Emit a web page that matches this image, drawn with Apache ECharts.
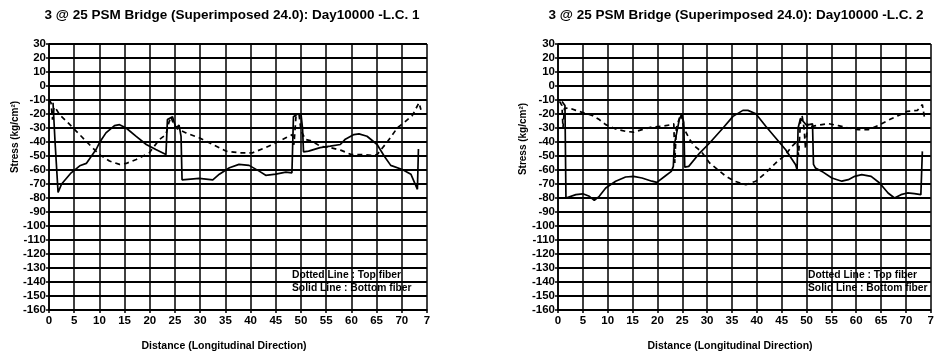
<!DOCTYPE html>
<html>
<head>
<meta charset="utf-8">
<script src="https://cdn.jsdelivr.net/npm/echarts@6/dist/echarts.min.js"></script>
<style>
  html, body { margin: 0; padding: 0; background: #fff; }
  #chart { width: 937px; height: 356px; }
</style>
</head>
<body>
<div id="chart"></div>
<script>
// ---------- data ----------
const chartTitles = [
  '3 @ 25 PSM Bridge (Superimposed 24.0): Day10000 -L.C. 1',
  '3 @ 25 PSM Bridge (Superimposed 24.0): Day10000 -L.C. 2'
];
const xAxisTitle = 'Distance (Longitudinal Direction)';
const yAxisTitle = 'Stress (kg/cm\u00B2)';
const legendLines = ['Dotted Line : Top fiber', 'Solid Line : Bottom fiber'];

const xTickLabels = ['0','5','10','15','20','25','30','35','40','45','50','55','60','65','70','7'];
const yTickLabels = ['30','20','10','0','-10','-20','-30','-40','-50','-60','-70','-80','-90',
  '-100','-110','-120','-130','-140','-150','-160'];

// L.C. 1 top fiber (dotted)
const lc1Top = [
  [0,-10],[0.4,-12],[0.7,-24],[1.0,-15],[1.5,-17],[2.1,-20.5],[3.8,-26.4],[6.4,-35.9],[8,-41.8],
  [10,-49],[12,-53.6],[14,-56],[15.3,-55.3],[17.3,-52.5],[19.9,-47.7],[21.9,-38.2],[23.2,-34.7],
  [23.8,-26],[24.2,-22],[24.7,-27],[25.2,-30],[27.2,-33.5],[29.8,-37],[32.5,-41.8],[35.1,-46.5],
  [37.7,-47.7],[40.4,-47.7],[43,-44],[45,-40.6],[47,-37],[48.3,-34.7],[48.6,-42],[49,-22],
  [49.6,-20],[50,-32],[50.9,-38.2],[52.2,-39.4],[53.8,-43],[55.8,-44],[58,-46],[60,-49],[62,-49],
  [64,-49.5],[65.1,-49],[67.1,-40],[69.1,-30],[70.5,-26],[72.1,-21],[73.4,-12],[73.8,-17]
];
// L.C. 1 bottom fiber (solid)
const lc1Bot = [
  [0.8,-12],[1.2,-40],[1.8,-76],[2.5,-70],[4.4,-62],[6.1,-57],[7.4,-55.3],[9.4,-45],[10,-40.6],
  [11.3,-33.5],[13,-28.3],[14,-27.6],[15.3,-30],[17.3,-36],[19.3,-41.8],[21.2,-45.4],[23.2,-49],
  [23.5,-24],[24.5,-22],[25.2,-30],[25.8,-28],[26.2,-36],[26.4,-67],[29.8,-66],[32.5,-67],
  [33.8,-63],[35.8,-58.4],[37.7,-56],[39.7,-56.7],[41.7,-60.8],[43,-63.8],[45,-63],[47,-61.5],
  [48.2,-62],[48.5,-22],[49.3,-20],[50,-20],[50.3,-30],[50.5,-47],[51.5,-46.5],[53.8,-44],
  [55.8,-43],[57.8,-41.8],[58.8,-38],[60.5,-34.7],[61.5,-34.2],[63.1,-35.9],[65.1,-41.8],
  [66.5,-50],[67.8,-56.7],[70.1,-59.6],[71.8,-63],[73.1,-73.8],[73.3,-45]
];
// L.C. 2 top fiber (dotted)
const lc2Top = [
  [0.3,-11],[0.8,-14],[1.0,-30],[1.3,-16],[2.3,-15.7],[3.6,-17.4],[5.3,-19.3],[7,-21.2],[8.3,-24],
  [9.6,-27.6],[11.6,-30.7],[13.6,-32.4],[15.2,-33],[16.9,-31.2],[18.9,-29.3],[20.9,-28.8],
  [22.8,-27.6],[23.3,-27],[23.5,-55],[23.8,-30],[24.5,-22],[24.8,-20],[25.3,-30],[26.5,-38.3],
  [27.5,-43],[28.8,-46.7],[30.5,-55],[33.8,-64.5],[35.5,-68],[37.8,-70.5],[39.8,-68],[41.8,-62],
  [43.8,-55],[45.8,-49],[47.1,-43],[48.1,-39.5],[48.4,-50],[48.8,-24],[49.1,-21],[49.5,-30],
  [49.8,-45],[50.2,-27],[51.1,-28.8],[53.1,-27.6],[54.4,-26.9],[56.4,-28.3],[58.4,-30],
  [60.4,-31.2],[62.4,-31.2],[64.4,-28.3],[66.4,-24.5],[68.4,-21.2],[70.3,-18.1],[72.3,-17.4],
  [73.3,-13.3],[73.7,-22]
];
// L.C. 2 bottom fiber (solid)
const lc2Bot = [
  [0.8,-11],[1.4,-14],[1.6,-80],[2,-80.7],[3.6,-77.6],[5,-77],[6.3,-78.8],[7.3,-81.7],[8.3,-78.8],
  [9.6,-72.9],[11.6,-68],[13.6,-65],[15.2,-64.5],[16.9,-65.7],[18.9,-68],[19.9,-68.8],[21.5,-64.5],
  [22.8,-61],[23.2,-57.4],[23.4,-42],[24.4,-24],[24.9,-20],[25.3,-26],[25.5,-58],[26.3,-57.4],
  [28.5,-47.9],[30.5,-40.7],[33.2,-30],[35.2,-21.7],[37.2,-17.4],[38.2,-17.4],[39.8,-19.8],
  [41.8,-28.8],[43.8,-37.1],[45.8,-45.5],[47.8,-56.2],[48.1,-59.8],[48.3,-30],[48.8,-23],[50,-28],
  [51.2,-27],[51.4,-56],[51.8,-58.6],[53.1,-61],[55.1,-65.7],[57.1,-68],[58.4,-66.9],[59.7,-64.5],
  [61.1,-63.3],[63,-64.5],[64.7,-69.3],[66.4,-76.4],[67.7,-80],[69,-77.6],[70.3,-76.4],
  [71.7,-76.9],[73,-77.6],[73.3,-46.7]
];

// ---------- chart ----------
const chart = echarts.init(document.getElementById('chart'), null, { renderer: 'canvas' });
const FONT = 'Liberation Sans';

function xAxisDef(gi) {
  return {
    type: 'value', gridIndex: gi, min: 0, max: 75, interval: 5,
    axisLine: { show: true, onZero: false, lineStyle: { color: '#000', width: 1.5 } },
    axisTick: { show: true, length: 3, lineStyle: { color: '#000', width: 1.5 } },
    axisLabel: {
      color: '#000', fontFamily: FONT, fontWeight: 'bold', fontSize: 11.5, margin: 5,
      formatter: v => xTickLabels[Math.round(v / 5)]
    },
    splitLine: { show: true, lineStyle: { color: '#000', width: 1.5 } }
  };
}
function yAxisDef(gi) {
  return {
    type: 'value', gridIndex: gi, min: -160, max: 30, interval: 10,
    axisLine: { show: true, onZero: false, lineStyle: { color: '#000', width: 1.5 } },
    axisTick: { show: true, length: 3, lineStyle: { color: '#000', width: 1.5 } },
    axisLabel: {
      color: '#000', fontFamily: FONT, fontWeight: 'bold', fontSize: 11.5, margin: 3,
      formatter: v => yTickLabels[Math.round((30 - v) / 10)]
    },
    splitLine: { show: true, lineStyle: { color: '#000', width: 2 } }
  };
}
function seriesDef(gi, data, dotted) {
  return {
    type: 'line', xAxisIndex: gi, yAxisIndex: gi, data: data,
    showSymbol: false, symbol: 'none', smooth: false, animation: false,
    lineStyle: { color: '#000', width: 1.7, type: dotted ? [5, 4] : 'solid' },
    z: 5
  };
}
function txt(x, y, text, size, rot, align) {
  return {
    type: 'text', x: x, y: y, rotation: rot || 0, z: 10,
    style: {
      text: text, fill: '#000',
      font: 'bold ' + size + 'px "' + FONT + '"',
      textAlign: align || 'center', textVerticalAlign: 'middle',
      align: align || 'center', verticalAlign: 'middle'
    }
  };
}

const option = {
  backgroundColor: '#fff',
  animation: false,
  grid: [
    { left: 49, top: 44, width: 378, height: 266, containLabel: false },
    { left: 558, top: 44, width: 376, height: 266, containLabel: false }
  ],
  xAxis: [xAxisDef(0), xAxisDef(1)],
  yAxis: [yAxisDef(0), yAxisDef(1)],
  series: [
    seriesDef(0, lc1Top, true),
    seriesDef(0, lc1Bot, false),
    seriesDef(1, lc2Top, true),
    seriesDef(1, lc2Bot, false)
  ],
  graphic: [
    txt(232, 15, chartTitles[0], 13.5),
    txt(736, 15, chartTitles[1], 13.5),
    txt(224, 346, xAxisTitle, 10.5),
    txt(730, 346, xAxisTitle, 10.5),
    txt(15, 137, yAxisTitle, 10, Math.PI / 2),
    txt(523, 139, yAxisTitle, 10, Math.PI / 2),
    txt(292, 275, legendLines[0], 10.3, 0, 'left'),
    txt(292, 288, legendLines[1], 10.3, 0, 'left'),
    txt(808, 275, legendLines[0], 10.3, 0, 'left'),
    txt(808, 288, legendLines[1], 10.3, 0, 'left')
  ]
};
chart.setOption(option);
</script>
</body>
</html>
